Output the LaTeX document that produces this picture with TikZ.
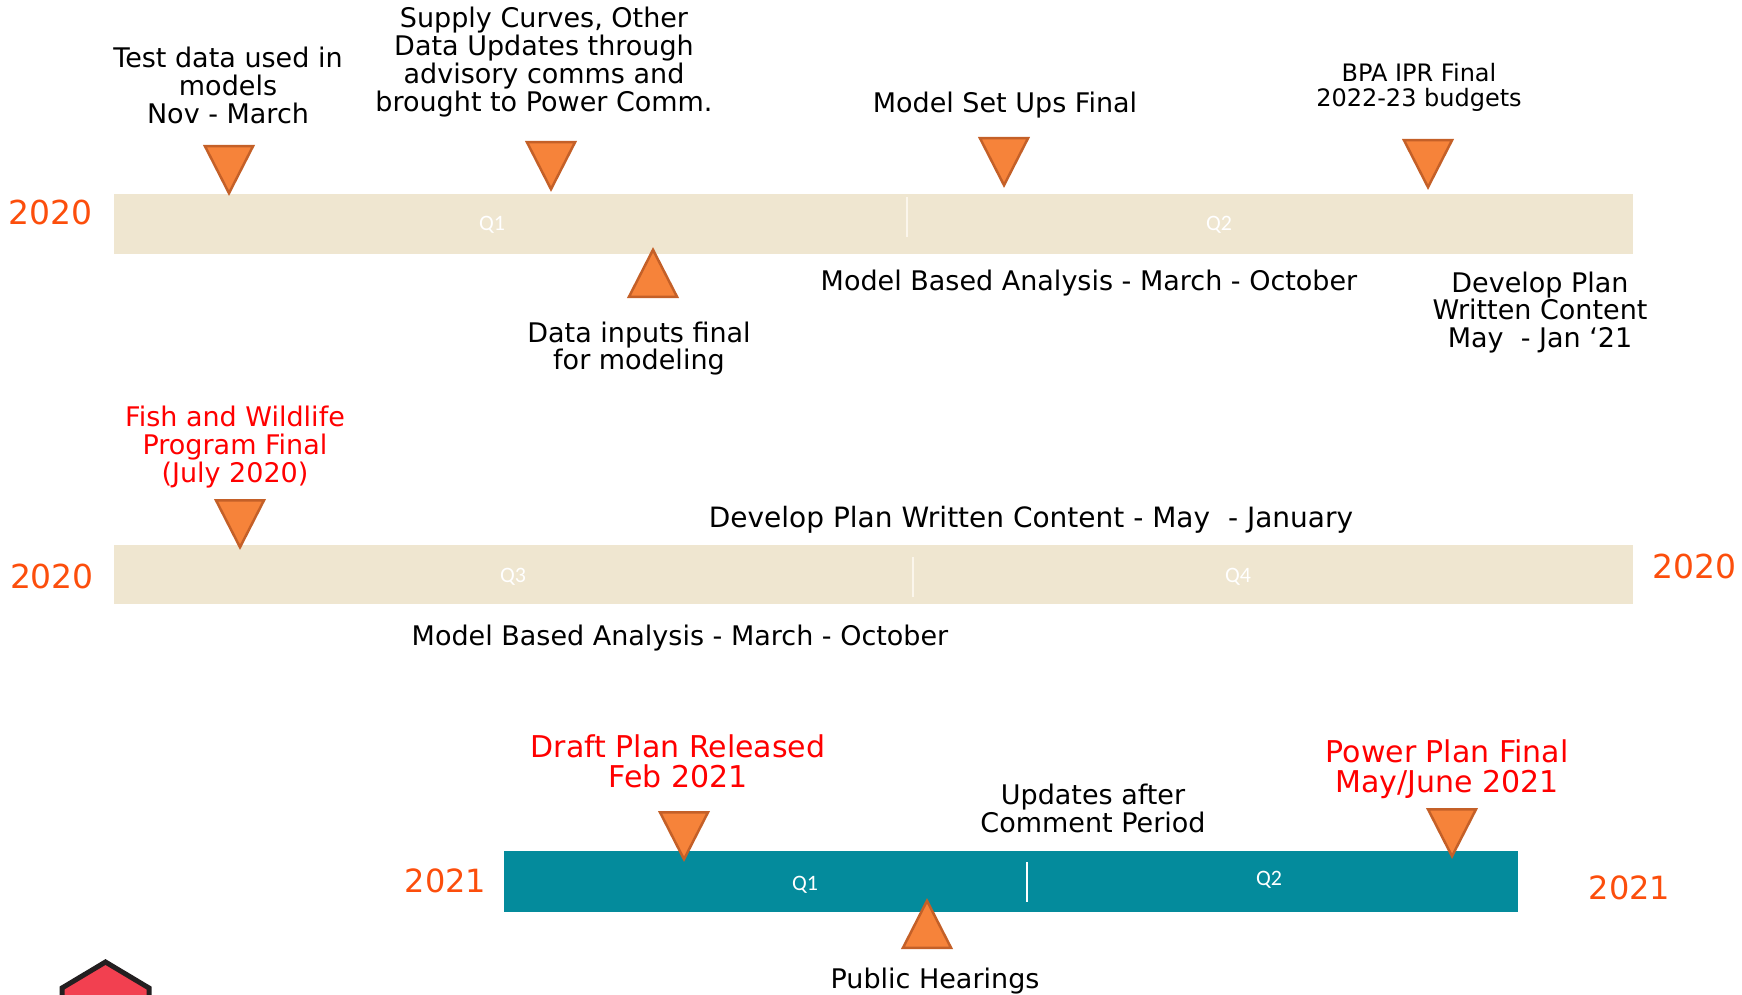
\documentclass[tikz,border=0pt]{standalone}
\usepackage{fontspec}
\setmainfont{DejaVu Sans}
\newfontfamily\qfont{Carlito}
\definecolor{barbeige}{RGB}{239,230,208}
\definecolor{barteal}{RGB}{4,139,156}
\definecolor{yearorange}{RGB}{252,78,12}
\definecolor{trifill}{RGB}{246,131,58}
\definecolor{triedge}{RGB}{196,96,40}
\definecolor{housered}{RGB}{242,64,80}
\definecolor{housedark}{RGB}{35,31,32}
\definecolor{divline}{RGB}{251,246,236}
\newcommand\fsz[2]{\fontsize{#1}{#2}\selectfont}
\newcommand\mlines[1]{\vtop{\halign{\hfil##\hfil\cr#1\crcr}}}
\begin{document}
\begin{tikzpicture}[x=1pt,y=-1pt,
  lbl/.style={inner sep=0pt, anchor=base, font=\fsz{27}{28}},
  redlbl/.style={inner sep=0pt, anchor=base, text=red, font=\fsz{30}{30}},
  yearlbl/.style={inner sep=0pt, anchor=base, text=yearorange, font=\fsz{33}{33}},
  qlbl/.style={inner sep=0pt, text=white, font=\qfont\fsz{22}{22}},
  divider/.style={draw=divline, line width=2pt},
  tri/.style={fill=trifill, draw=triedge, line width=2.5pt},
  downtri/.pic={\filldraw[tri] (-24,1.25) -- (24,1.25) -- (0,48.2) -- cycle;},
  uptri/.pic={\filldraw[tri] (0,2.8) -- (24,49.75) -- (-24,49.75) -- cycle;}
]
\useasboundingbox (0,0) rectangle (1742,995);
\clip (0,0) rectangle (1742,995);

% ---------- Row 1 ----------
\fill[barbeige] (114,194) rectangle (1633,254);
\draw[divider] (907,197) -- (907,237);
\node[qlbl] (q1a) at (492,225) {Q1};
\node[qlbl] (q2a) at (1219,225) {Q2};
\node[yearlbl] (y1) at (50.5,224) {2020};

\pic at (229,145) {downtri};
\pic at (551,141) {downtri};
\pic at (1004,137) {downtri};
\pic at (1428,139) {downtri};
\pic at (653,247) {uptri};

\node[lbl] (testdata) at (228,68) {\mlines{Test data used in\cr models\cr Nov - March}};
\node[lbl] (supply) at (544,28) {\mlines{Supply Curves, Other\cr Data Updates through\cr advisory comms and\cr brought to Power Comm.}};
\node[lbl, font=\fsz{27}{27}] (datain) at (639,342) {\mlines{Data inputs final\cr for modeling}};
\node[lbl] (setups) at (1005,113) {Model Set Ups Final};
\node[lbl, font=\fsz{24}{25}] (bpa) at (1419,82) {\mlines{BPA IPR Final\cr 2022-23 budgets}};
\node[lbl] (mba1) at (1089,290) {Model Based Analysis - March - October};
\node[lbl, font=\fsz{27}{27.5}] (dev1) at (1540,292) {\mlines{Develop Plan\cr Written Content\cr May\ \ - Jan ‘21}};

% ---------- Row 2 ----------
\fill[barbeige] (114,545) rectangle (1633,604);
\draw[divider] (913,557) -- (913,597);
\node[qlbl] (q3) at (513,577) {Q3};
\node[qlbl] (q4) at (1238,577) {Q4};
\node[yearlbl] (y2) at (52,588) {2020};
\node[yearlbl] (y3) at (1694.5,578) {2020};

\pic at (240,499) {downtri};
\node[lbl, text=red] (fish) at (235,426) {\mlines{Fish and Wildlife\cr Program Final\cr (July 2020)}};
\node[lbl, font=\fsz{28}{28}] (dev2) at (1031,527) {Develop Plan Written Content - May\ \ - January};
\node[lbl] (mba2) at (680,645) {Model Based Analysis - March - October};

% ---------- Row 3 ----------
\fill[barteal] (504,851) rectangle (1518,912);
\draw[white, line width=2pt] (1027,862) -- (1027,902);
\node[qlbl] (q1b) at (805,885) {Q1};
\node[qlbl] (q2b) at (1269,880) {Q2};
\node[yearlbl, font=\fsz{32}{32}] (y4) at (445.5,892) {2021};
\node[yearlbl, font=\fsz{32}{32}] (y5) at (1629.5,899) {2021};

\pic at (684,811) {downtri};
\pic at (1452,808) {downtri};
\pic at (927,898) {uptri};

\node[redlbl] (draft) at (678,757) {\mlines{Draft Plan Released\cr Feb 2021}};
\node[redlbl] (final) at (1447,762) {\mlines{Power Plan Final\cr May/June 2021}};
\node[lbl] (updates) at (1093,804) {\mlines{Updates after\cr Comment Period}};
\node[lbl] (hearings) at (935,988) {Public Hearings};

% ---------- corner shape ----------
\filldraw[fill=housered, draw=housedark, line width=5pt, line join=miter]
  (62,1010) -- (62,988) -- (105.5,962) -- (149,988) -- (149,1010);
\end{tikzpicture}
\end{document}
